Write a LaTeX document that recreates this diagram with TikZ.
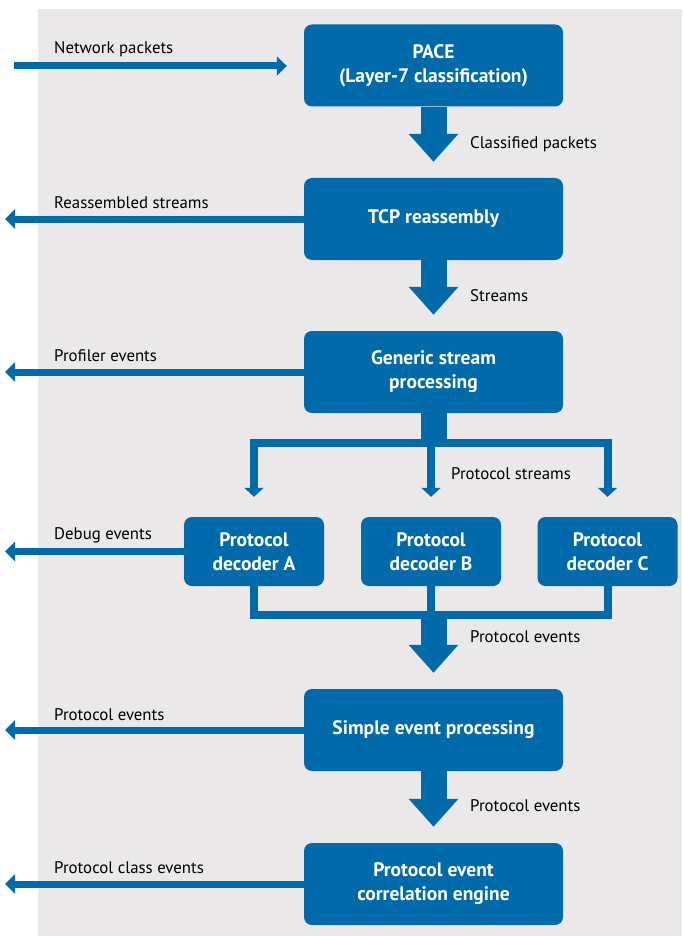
\documentclass[tikz,border=0pt]{standalone}
\usepackage{fontspec}
\setmainfont{PT Sans}
\usepackage{xcolor}
\usepackage{tikz}
\usetikzlibrary{arrows.meta,positioning,calc}

\definecolor{stageblue}{HTML}{006AAA}
\definecolor{panelgray}{HTML}{EAE8E9}

\begin{document}
\begin{tikzpicture}[
  x=1pt, y=-1pt,
  stage/.style={fill=stageblue, rounded corners=8pt, text=white,
    font=\bfseries\fontsize{19.5}{24}\selectfont, align=center,
    minimum width=259pt, minimum height=82pt, inner sep=0pt},
  decoder/.style={stage, minimum width=140pt, minimum height=69pt},
  lbl/.style={font=\fontsize{16.8}{19}\selectfont, anchor=base west, inner sep=0pt},
  bigflow/.style={draw=stageblue, line width=26pt,
    -{Triangle[width=48pt,length=28pt]}},
  sideflow/.style={draw=stageblue, line width=7pt,
    -{Triangle[width=19pt,length=10pt]}},
  branch/.style={draw=stageblue, line width=8pt, line join=miter},
  branchflow/.style={branch, -{Triangle[width=19pt,length=9pt]}},
]
  \useasboundingbox (0,0) rectangle (682,936);
  % Panel
  \fill[panelgray] (38,9) rectangle (682,936);

  % Stages
  \node[stage] (pace) at (433.5,65.5) {PACE\\(Layer-7 classification)};
  \node[stage] (tcp) at (433.5,219) {TCP reassembly};
  \node[stage] (gsp) at (433.5,372) {Generic stream\\processing};
  \node[decoder] (decA) at (254,551.5) {Protocol\\decoder A};
  \node[decoder] (decB) at (431,551.5) {Protocol\\decoder B};
  \node[decoder] (decC) at (607.5,551.5) {Protocol\\decoder C};
  \node[stage] (sep) at (433.5,730) {Simple event processing};
  \node[stage] (pec) at (433.5,884) {Protocol event\\correlation engine};

  % Input and outputs
  \coordinate (netin) at (14,66);
  \coordinate (outL) at (5,0);
  \draw[sideflow, shorten >=17pt] (netin) -- (netin -| pace.west);
  \draw[sideflow] (tcp.west) -- (tcp.west -| outL);
  \draw[sideflow] (gsp.west) -- (gsp.west -| outL);
  \draw[sideflow] (decA.west) -- (decA.west -| outL);
  \draw[sideflow] (sep.west) -- (sep.west -| outL);
  \draw[sideflow] (pec.west) -- (pec.west -| outL);

  % Main flow
  \draw[bigflow] (pace.south) -- ([yshift=16pt]tcp.north);
  \draw[bigflow] (tcp.south) -- ([yshift=16pt]gsp.north);
  \draw[bigflow] (sep.south) -- ([yshift=16pt]pec.north);

  % Split to decoders
  \coordinate (split) at (433.5,443);
  \draw[draw=stageblue, line width=26pt] (gsp.south) -- (split);
  \draw[branchflow] (split) -| ([yshift=20pt]decA.north);
  \draw[branchflow] (split) -| ([yshift=20pt]decC.north);
  \draw[branchflow] (split -| decB.north) -- ([yshift=20pt]decB.north);

  % Merge of decoders
  \coordinate (merge) at (433.5,615);
  \draw[branch] (decA.south) |- (merge) -| (decC.south);
  \draw[branch] (decB.south) -- (decB.south |- merge);
  \draw[bigflow] ([yshift=4pt]merge) -- ([yshift=16pt]sep.north);

  % Labels
  \node[lbl] (lnet) at (54,54) {Network packets};
  \node[lbl] (lcls) at (470,149) {Classified packets};
  \node[lbl] (lrs) at (54,208) {Reassembled streams};
  \node[lbl] (lstr) at (470,301) {Streams};
  \node[lbl] (lprof) at (54,361) {Profiler events};
  \node[lbl] (lps) at (451,479) {Protocol streams};
  \node[lbl] (ldbg) at (54,539) {Debug events};
  \node[lbl] (lpe1) at (470,642) {Protocol events};
  \node[lbl] (lpe2) at (54,720) {Protocol events};
  \node[lbl] (lpe3) at (470,811) {Protocol events};
  \node[lbl] (lpce) at (54,873) {Protocol class events};
\end{tikzpicture}
\end{document}
